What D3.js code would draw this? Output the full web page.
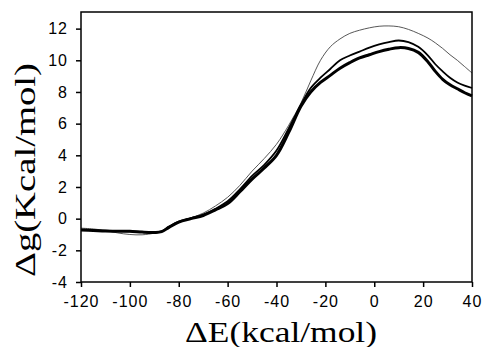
<!DOCTYPE html>
<html>
<head>
<meta charset="utf-8">
<script src="https://cdn.jsdelivr.net/npm/d3@7"></script>
<style>
  body { margin: 0; background: #fff; }
  svg { display: block; }
</style>
</head>
<body>
<div id="chart"></div>
<script>
// Data
const xValues = [-120, -115, -110, -105, -100, -95, -90, -87, -84, -80, -75, -70, -65, -60, -55, -50, -45, -40, -35, -30, -26, -22, -18, -14, -10, -6, -2, 2, 6, 10, 14, 18, 22, 25, 28, 31, 34, 37, 40];

const thickSeries = [-0.72, -0.75, -0.78, -0.8, -0.8, -0.85, -0.87, -0.82, -0.55, -0.22, 0.0, 0.2, 0.55, 0.95, 1.7, 2.5, 3.2, 4.0, 5.45, 7.1, 8.0, 8.6, 9.05, 9.5, 9.85, 10.15, 10.35, 10.55, 10.7, 10.8, 10.75, 10.5, 9.9, 9.3, 8.8, 8.45, 8.2, 7.95, 7.75];
const mediumSeries = [-0.7, -0.73, -0.76, -0.78, -0.8, -0.83, -0.86, -0.8, -0.5, -0.18, 0.03, 0.25, 0.62, 1.1, 1.85, 2.7, 3.4, 4.3, 5.7, 7.2, 8.25, 8.9, 9.45, 10.0, 10.3, 10.55, 10.8, 11.0, 11.15, 11.25, 11.15, 10.85, 10.3, 9.75, 9.3, 8.9, 8.6, 8.4, 8.25];
const thinSeries = [-0.6, -0.65, -0.75, -0.9, -1.0, -1.02, -0.92, -0.82, -0.5, -0.2, 0.05, 0.35, 0.8, 1.35, 2.1, 3.0, 3.8, 4.7, 5.9, 7.3, 8.7, 10.0, 10.85, 11.35, 11.7, 11.9, 12.05, 12.15, 12.17, 12.12, 11.95, 11.7, 11.4, 11.1, 10.75, 10.35, 10.0, 9.6, 9.2];

const xTicks = [-120, -100, -80, -60, -40, -20, 0, 20, 40];
const yTicks = [-4, -2, 0, 2, 4, 6, 8, 10, 12];

const W = 484, H = 347;
const margin = { top: 12, right: 12, bottom: 65, left: 81 };
const width = W - margin.left - margin.right;
const height = H - margin.top - margin.bottom;

const svg = d3.select("#chart").append("svg")
  .attr("width", W)
  .attr("height", H);

const g = svg.append("g")
  .attr("transform", `translate(${margin.left},${margin.top})`);

const x = d3.scaleLinear().domain([-120, 40]).range([0, width]);
const y = d3.scaleLinear().domain([-4, 13.05]).range([height, 0]);

// Curves
const series = [
  { values: thinSeries, width: 0.9, color: "#444" },
  { values: mediumSeries, width: 1.8, color: "#000" },
  { values: thickSeries, width: 3, color: "#000" }
];

const line = d3.line()
  .x(d => x(d[0]))
  .y(d => y(d[1]))
  .curve(d3.curveCatmullRom);

g.selectAll(".curve")
  .data(series)
  .enter()
  .append("path")
  .attr("class", "curve")
  .attr("fill", "none")
  .attr("stroke", d => d.color)
  .attr("stroke-width", d => d.width)
  .attr("stroke-linejoin", "round")
  .attr("d", d => line(xValues.map((v, i) => [v, d.values[i]])));

// Frame
g.append("rect")
  .attr("width", width)
  .attr("height", height)
  .attr("fill", "none")
  .attr("stroke", "#000")
  .attr("stroke-width", 1.5);

// Axes (plain hyphen minus, like the original)
const xAxis = g.append("g")
  .attr("transform", `translate(0,${height})`)
  .call(d3.axisBottom(x).tickValues(xTicks).tickSize(5).tickPadding(9).tickFormat(d => String(d)));

const yAxis = g.append("g")
  .call(d3.axisLeft(y).tickValues(yTicks).tickSize(5).tickPadding(8).tickFormat(d => String(d)));

[xAxis, yAxis].forEach(a => {
  a.select(".domain").remove();
  a.selectAll("line").attr("stroke", "#000").attr("stroke-width", 1.5);
  a.selectAll("text")
    .attr("fill", "#000")
    .style("font-family", "'Liberation Sans', Arial, sans-serif")
    .style("font-size", "16px")
    .style("letter-spacing", "1px");
});

// Axis titles
svg.append("text")
  .attr("x", 281)
  .attr("y", 342)
  .attr("text-anchor", "middle")
  .attr("textLength", 192)
  .attr("lengthAdjust", "spacingAndGlyphs")
  .style("font-family", "'Liberation Serif'")
  .style("font-size", "30px")
  .text("ΔE(kcal/mol)");

svg.append("text")
  .attr("transform", "translate(35,170) rotate(-90)")
  .attr("text-anchor", "middle")
  .attr("textLength", 214)
  .attr("lengthAdjust", "spacingAndGlyphs")
  .style("font-family", "'Liberation Serif'")
  .style("font-size", "30px")
  .text("Δg(Kcal/mol)");
</script>
</body>
</html>
